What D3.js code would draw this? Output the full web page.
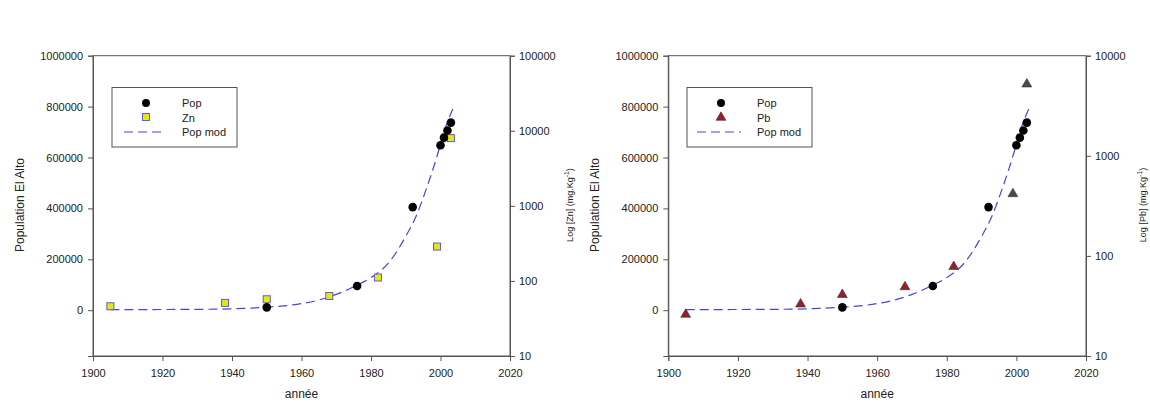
<!DOCTYPE html>
<html><head><meta charset="utf-8">
<script src="https://cdn.jsdelivr.net/npm/d3@7"></script>
<style>
body{margin:0;background:#fff;}
text{font-family:"Liberation Sans",Arial,sans-serif;fill:#222;}
</style></head><body>
<svg id="c" width="1150" height="404"></svg>
<script>
// ---- data ----
const popYears = [1950, 1976, 1992, 2000, 2001, 2002, 2003];
const popValues = [11000, 95000, 405000, 648000, 678000, 706000, 737000];

const znYears = [1905, 1938, 1950, 1968, 1982, 1999, 2003];
const znValues = [46, 51, 57, 63, 111, 287, 7980];

const pbYears = [1905, 1938, 1950, 1968, 1982, 1999, 2003];
const pbValues = [26, 33, 41, 49, 78, 417, 5200];

const modYears = [1905, 1915, 1925, 1935, 1940, 1945, 1950, 1955, 1960, 1965, 1970, 1975, 1980, 1985, 1990, 1993, 1996, 1999, 2001, 2003.5];
const modValues = [2000, 2500, 3000, 4000, 5500, 8000, 12000, 17000, 26000, 40000, 62000, 92000, 128000, 185000, 290000, 370000, 480000, 605000, 700000, 790000];

const xTicks = [1900, 1920, 1940, 1960, 1980, 2000, 2020];
const popTicks = [0, 200000, 400000, 600000, 800000, 1000000];
const znTicks = [10, 100, 1000, 10000, 100000];
const pbTicks = [10, 100, 1000, 10000];

const svg = d3.select("#c");

function panel(opt) {
  const x = d3.scaleLinear().domain([1900, 2020]).range([opt.x0, opt.x1]);
  const y = d3.scaleLinear().domain([-180000, 1000000]).range([356, 55.7]);
  const y2 = d3.scaleLog().domain(opt.logDomain).range([356, 55.7]);
  const g = svg.append("g");

  // frame
  g.append("rect").attr("x", opt.x0).attr("y", 55.7).attr("width", opt.x1 - opt.x0).attr("height", 356 - 55.7)
    .attr("fill", "none").attr("stroke", "#555").attr("stroke-width", 1);

  const styleAxis = a => {
    a.selectAll("path").attr("stroke", "#555");
    a.selectAll("line").attr("stroke", "#555");
    a.selectAll("text").attr("font-size", "11px").attr("fill", "#222")
      .attr("font-family", "Liberation Sans, Arial, sans-serif");
  };
  g.append("g").attr("transform", "translate(0,356)")
    .call(d3.axisBottom(x).tickValues(xTicks).tickFormat(d3.format("d")).tickSize(5).tickPadding(8)).call(styleAxis);
  g.append("g").attr("transform", `translate(${opt.x0},0)`)
    .call(d3.axisLeft(y).tickValues(popTicks).tickFormat(d3.format("d")).tickSize(5).tickPadding(5)).call(styleAxis);
  g.append("g").attr("transform", `translate(${opt.x1},0)`)
    .call(d3.axisRight(y2).tickValues(opt.logTicks).tickFormat(d3.format("d")).tickSize(5).tickPadding(4)).call(styleAxis);

  // titles
  g.append("text").attr("x", (opt.x0 + opt.x1) / 2).attr("y", 398).attr("text-anchor", "middle")
    .attr("font-size", "12px").text("année");
  g.append("text").attr("transform", `translate(${opt.x0 - 69},205) rotate(-90)`).attr("text-anchor", "middle")
    .attr("font-size", "12px").text("Population El Alto");
  const rt = g.append("text").attr("transform", `translate(${opt.rx},205) rotate(-90)`).attr("text-anchor", "middle")
    .attr("font-size", "9px");
  rt.append("tspan").text(opt.rlabel + "  (mg.Kg");
  rt.append("tspan").attr("dy", -4).attr("font-size", "7px").text("-1");
  rt.append("tspan").attr("dy", 4).text(")");

  // model curve
  const line = d3.line().x(d => x(d[0])).y(d => y(d[1])).curve(d3.curveMonotoneX);
  g.append("path").datum(modYears.map((t, i) => [t, modValues[i]])).attr("d", line)
    .attr("fill", "none").attr("stroke", "#4646d8").attr("stroke-width", 1.2).attr("stroke-dasharray", "9,5");

  // secondary markers
  if (opt.kind === "square") {
    g.selectAll(".sq").data(znYears.map((t, i) => [t, znValues[i]])).enter().append("rect")
      .attr("x", d => x(d[0]) - 3.5).attr("y", d => y2(d[1]) - 3.5).attr("width", 7).attr("height", 7)
      .attr("fill", "#e6ea00").attr("stroke", "#5a5af0").attr("stroke-width", 1);
  } else {
    const tri = d3.symbol().type(d3.symbolTriangle).size(42);
    g.selectAll(".tr").data(pbYears.map((t, i) => [t, pbValues[i]])).enter().append("path")
      .attr("d", tri).attr("transform", d => `translate(${x(d[0])},${y2(d[1])})`)
      .attr("fill", d => d[0] >= 1999 ? "#4a4a4a" : "#9a1e2a").attr("stroke", "#333").attr("stroke-width", 0.6);
  }
  // population points
  g.selectAll(".pp").data(popYears.map((t, i) => [t, popValues[i]])).enter().append("circle")
    .attr("cx", d => x(d[0])).attr("cy", d => y(d[1])).attr("r", 4.3).attr("fill", "#000");

  // legend
  const L = opt.leg;
  g.append("rect").attr("x", L.x).attr("y", 87.5).attr("width", 125).attr("height", 59.5)
    .attr("fill", "#fff").attr("stroke", "#555").attr("stroke-width", 1);
  g.append("circle").attr("cx", L.mx).attr("cy", 103).attr("r", 4).attr("fill", "#000");
  if (opt.kind === "square") {
    g.append("rect").attr("x", L.mx - 3.5).attr("y", 113.5).attr("width", 7).attr("height", 7)
      .attr("fill", "#e6ea00").attr("stroke", "#5a5af0");
  } else {
    g.append("path").attr("d", d3.symbol().type(d3.symbolTriangle).size(42))
      .attr("transform", `translate(${L.mx},117.5)`).attr("fill", "#9a1e2a").attr("stroke", "#333").attr("stroke-width", 0.6);
  }
  g.append("line").attr("x1", L.lx0).attr("x2", L.lx1).attr("y1", 132).attr("y2", 132)
    .attr("stroke", "#4646d8").attr("stroke-width", 1.2).attr("stroke-dasharray", "9,5");
  const names = ["Pop", opt.kind === "square" ? "Zn" : "Pb", "Pop mod"];
  names.forEach((n, i) => g.append("text").attr("x", L.tx).attr("y", 107 + i * 14.5).attr("font-size", "11px").text(n));
}

panel({x0: 93, x1: 510, logDomain: [10, 100000], logTicks: znTicks, rx: 573, rlabel: "Log [Zn]", kind: "square",
  leg: {x: 112, mx: 146, tx: 182, lx0: 124, lx1: 166}});
panel({x0: 668.3, x1: 1086, logDomain: [10, 10000], logTicks: pbTicks, rx: 1146, rlabel: "Log [Pb]", kind: "tri",
  leg: {x: 687, mx: 721, tx: 757, lx0: 697, lx1: 741}});
</script>
</body></html>
